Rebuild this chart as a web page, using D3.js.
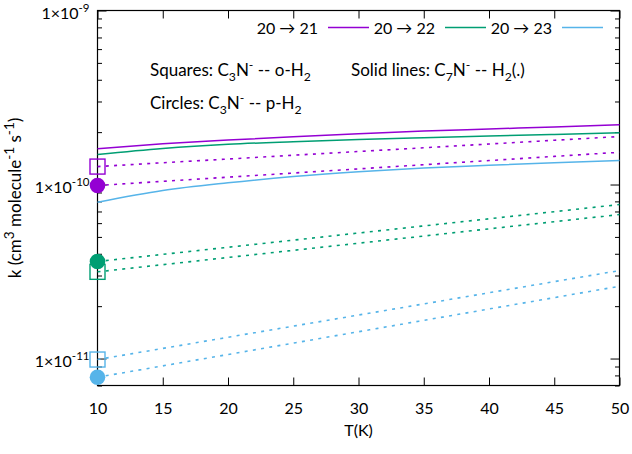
<!DOCTYPE html>
<html>
<head>
<meta charset="utf-8">
<script src="https://cdn.jsdelivr.net/npm/d3@7"></script>
<style>
  body { margin: 0; background: #fff; }
  text { font-family: Lato, "DejaVu Sans", sans-serif; fill: #000; }
</style>
</head>
<body>
<svg id="chart" width="632" height="454"></svg>
<script>
// Temperatures (K) at which the rate coefficients are tabulated
const temperatures = [10, 15, 20, 25, 30, 35, 40, 45, 50];

// Transition labels and colours
const transitions = ["20 → 21", "20 → 22", "20 → 23"];
const transitionColors = ["#9400d3", "#009e73", "#56b4e9"];

// C7N- -- H2 rate coefficients (cm^3 molecule^-1 s^-1), solid lines
const c7nH2_2021 = [1.604e-10, 1.713e-10, 1.800e-10, 1.883e-10, 1.956e-10, 2.027e-10, 2.084e-10, 2.143e-10, 2.203e-10];
const c7nH2_2022 = [1.487e-10, 1.610e-10, 1.702e-10, 1.762e-10, 1.814e-10, 1.858e-10, 1.900e-10, 1.941e-10, 1.982e-10];
const c7nH2_2023 = [7.91e-11, 9.24e-11, 1.023e-10, 1.111e-10, 1.183e-10, 1.244e-10, 1.291e-10, 1.334e-10, 1.374e-10];

// C3N- -- o-H2 rate coefficients, dotted lines with squares
const c3nOrtho_2021 = [1.268e-10, 1.334e-10, 1.401e-10, 1.473e-10, 1.548e-10, 1.626e-10, 1.709e-10, 1.796e-10, 1.887e-10];
const c3nOrtho_2022 = [3.150e-11, 3.463e-11, 3.808e-11, 4.186e-11, 4.601e-11, 5.059e-11, 5.563e-11, 6.114e-11, 6.724e-11];
const c3nOrtho_2023 = [9.87e-12, 1.143e-11, 1.325e-11, 1.535e-11, 1.778e-11, 2.060e-11, 2.388e-11, 2.766e-11, 3.203e-11];

// C3N- -- p-H2 rate coefficients, dotted lines with circles
const c3nPara_2021 = [9.87e-11, 1.043e-10, 1.102e-10, 1.164e-10, 1.230e-10, 1.300e-10, 1.373e-10, 1.451e-10, 1.533e-10];
const c3nPara_2022 = [3.611e-11, 3.967e-11, 4.359e-11, 4.789e-11, 5.264e-11, 5.782e-11, 6.355e-11, 6.982e-11, 7.674e-11];
const c3nPara_2023 = [7.806e-12, 9.076e-12, 1.055e-11, 1.226e-11, 1.426e-11, 1.657e-11, 1.926e-11, 2.239e-11, 2.603e-11];

// Axis ticks
const xTickValues = [10, 15, 20, 25, 30, 35, 40, 45, 50];
const yMajorTicks = [1e-11, 1e-10, 1e-9];
const yMajorExponents = ["-11", "-10", "-9"];

const solidSeries = [c7nH2_2021, c7nH2_2022, c7nH2_2023];
const orthoSeries = [c3nOrtho_2021, c3nOrtho_2022, c3nOrtho_2023];
const paraSeries = [c3nPara_2021, c3nPara_2022, c3nPara_2023];

const svg = d3.select("#chart");
const plotLeft = 97.5, plotRight = 619.5, plotTop = 10.5, plotBottom = 385.5;
const fs = 16, fsText = 17;

const x = d3.scaleLinear().domain([10, 50]).range([plotLeft, plotRight]);
const y = d3.scaleLog().domain([7e-12, 1e-9]).range([plotBottom, plotTop]);

// minor log ticks 2..9 of each decade inside the domain
const yMinorTicks = [];
[1e-12, 1e-11, 1e-10].forEach(d => {
  for (let m = 2; m <= 9; m++) {
    const v = m * d;
    if (v >= 7e-12 && v <= 1e-9) yMinorTicks.push(v);
  }
});

// Rich text helper: parts are [string, "n" | "sub" | "sup"]
function richText(sel, parts, baseSize, opts = {}) {
  const supScale = opts.supScale || 0.72, supRaise = opts.supRaise || 0.42;
  let offset = 0;
  parts.forEach(([str, mode]) => {
    let target = 0, size = baseSize;
    if (mode === "sub") { target = baseSize * 0.3; size = baseSize * 0.72; }
    if (mode === "sup") { target = -baseSize * supRaise; size = baseSize * supScale; }
    sel.append("tspan")
      .attr("dy", target - offset)
      .attr("font-size", size)
      .text(str);
    offset = target;
  });
}

// Axes: ticks point inward on all four sides
const gAxes = svg.append("g");
const styleAxis = g => {
  g.select(".domain").remove();
  g.selectAll("line").attr("stroke", "#000").attr("stroke-width", 1);
};

gAxes.append("g").attr("transform", `translate(0,${plotBottom})`)
  .call(d3.axisBottom(x).tickValues(xTickValues).tickSize(-8).tickPadding(17).tickFormat(d3.format("d")))
  .call(styleAxis)
  .call(g => g.selectAll("text").attr("font-size", fs).attr("font-family", null).attr("fill", "#000"));
gAxes.append("g").attr("transform", `translate(0,${plotTop})`)
  .call(d3.axisTop(x).tickValues(xTickValues).tickSize(-8).tickFormat(""))
  .call(styleAxis);

gAxes.append("g").attr("transform", `translate(${plotLeft},0)`)
  .call(d3.axisLeft(y).tickValues(yMajorTicks).tickSize(-9).tickFormat(""))
  .call(styleAxis);
gAxes.append("g").attr("transform", `translate(${plotLeft},0)`)
  .call(d3.axisLeft(y).tickValues(yMinorTicks).tickSize(-4.5).tickFormat(""))
  .call(styleAxis);
gAxes.append("g").attr("transform", `translate(${plotRight},0)`)
  .call(d3.axisRight(y).tickValues(yMajorTicks).tickSize(-9).tickFormat(""))
  .call(styleAxis);
gAxes.append("g").attr("transform", `translate(${plotRight},0)`)
  .call(d3.axisRight(y).tickValues(yMinorTicks).tickSize(-4.5).tickFormat(""))
  .call(styleAxis);

// y tick labels 1×10^n
yMajorTicks.forEach((v, i) => {
  const t = svg.append("text")
    .attr("x", plotLeft - 8)
    .attr("y", y(v) + 8)
    .attr("text-anchor", "end");
  richText(t, [["1×10", "n"], [yMajorExponents[i], "sup"]], fs, { supRaise: 0.38 });
});

// plot frame
svg.append("rect")
  .attr("x", plotLeft).attr("y", plotTop)
  .attr("width", plotRight - plotLeft).attr("height", plotBottom - plotTop)
  .attr("fill", "none").attr("stroke", "#000").attr("stroke-width", 1.2);

// axis titles
svg.append("text")
  .attr("x", (plotLeft + plotRight) / 2).attr("y", 436)
  .attr("text-anchor", "middle").attr("font-size", fs)
  .text("T(K)");

const yTitle = svg.append("text")
  .attr("transform", `translate(21,${(plotTop + plotBottom) / 2}) rotate(-90)`)
  .attr("text-anchor", "middle");
richText(yTitle, [["k (cm", "n"], ["3", "sup"], [" molecule", "n"], ["-1", "sup"], [" s", "n"], ["-1", "sup"], [")", "n"]], fsText, { supScale: 0.8, supRaise: 0.4 });

// series
const line = d3.line()
  .x((d, i) => x(temperatures[i]))
  .y(d => y(d))
  .curve(d3.curveMonotoneX);

const plot = svg.append("g");

[orthoSeries, paraSeries].forEach(group => {
  group.forEach((vals, k) => {
    plot.append("path")
      .attr("d", line(vals))
      .attr("fill", "none")
      .attr("stroke", transitionColors[k])
      .attr("stroke-width", 1.6)
      .attr("stroke-dasharray", "3,5.3");
  });
});

solidSeries.forEach((vals, k) => {
  plot.append("path")
    .attr("d", line(vals))
    .attr("fill", "none")
    .attr("stroke", transitionColors[k])
    .attr("stroke-width", 1.5);
});

// markers at the lowest temperature
orthoSeries.forEach((vals, k) => {
  plot.append("rect")
    .attr("x", x(temperatures[0]) - 7.5)
    .attr("y", y(vals[0]) - 7.5)
    .attr("width", 15).attr("height", 15)
    .attr("fill", "none")
    .attr("stroke", transitionColors[k])
    .attr("stroke-width", 1.4);
});
paraSeries.forEach((vals, k) => {
  plot.append("circle")
    .attr("cx", x(temperatures[0]))
    .attr("cy", y(vals[0]))
    .attr("r", 7.8)
    .attr("fill", transitionColors[k]);
});

// legend
transitions.forEach((label, k) => {
  const x0 = 318 + k * 117;
  svg.append("text")
    .attr("x", x0).attr("y", 33.5)
    .attr("text-anchor", "end").attr("font-size", fs)
    .text(label);
  svg.append("line")
    .attr("x1", x0 + 10).attr("x2", x0 + 51)
    .attr("y1", 27.5).attr("y2", 27.5)
    .attr("stroke", transitionColors[k]).attr("stroke-width", 1.5);
});

// annotations
const a1 = svg.append("text").attr("x", 150).attr("y", 76);
richText(a1, [["Squares: C", "n"], ["3", "sub"], ["N", "n"], ["-", "sup"], [" -- o-H", "n"], ["2", "sub"]], fsText);
const a2 = svg.append("text").attr("x", 351).attr("y", 76);
richText(a2, [["Solid lines: C", "n"], ["7", "sub"], ["N", "n"], ["-", "sup"], [" -- H", "n"], ["2", "sub"], ["(.)", "n"]], fsText);
const a3 = svg.append("text").attr("x", 150).attr("y", 109);
richText(a3, [["Circles: C", "n"], ["3", "sub"], ["N", "n"], ["-", "sup"], [" -- p-H", "n"], ["2", "sub"]], fsText);
</script>
</body>
</html>
